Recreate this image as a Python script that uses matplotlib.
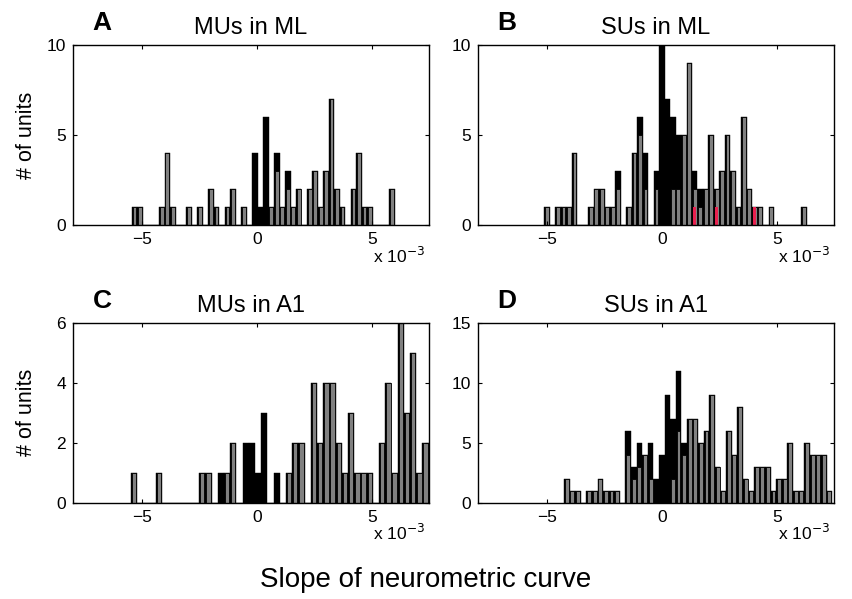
import numpy as np
import matplotlib.pyplot as plt

plt.rcParams['font.family'] = ['Liberation Sans', 'DejaVu Sans']

# histogram counts per bin (slope in units of 1e-3)
# total = all units (black), gray = non-significant units, red = marked units
a_lo, a_w = -5.435, 0.2381
a_total = [1, 1, 0, 0, 0, 1, 4, 1, 0, 0, 1, 0, 1, 0, 2, 1, 0, 1, 2, 0, 1, 0, 4, 1,
           6, 1, 4, 1, 3, 1, 2, 0, 2, 3, 1, 3, 7, 2, 1, 0, 2, 4, 1, 1, 0, 0, 0, 2]
a_gray = [1, 1, 0, 0, 0, 1, 4, 1, 0, 0, 1, 0, 1, 0, 2, 1, 0, 1, 2, 0, 1, 0, 0, 0,
          0, 1, 3, 1, 2, 1, 2, 0, 2, 3, 1, 3, 7, 2, 1, 0, 2, 4, 1, 1, 0, 0, 0, 2]

b_lo, b_w = -5.101, 0.2377
b_total = [1, 0, 1, 1, 1, 4, 0, 0, 1, 2, 2, 1, 1, 3, 0, 1, 4, 6, 4, 0, 3, 10, 7, 6,
           5, 5, 9, 3, 2, 2, 5, 2, 3, 5, 3, 1, 6, 2, 1, 1, 0, 1, 0, 0, 0, 0, 0, 1]
b_gray = [1, 0, 1, 1, 1, 4, 0, 0, 1, 2, 2, 1, 1, 2, 0, 1, 4, 5, 2, 0, 2, 0, 0, 2,
          2, 5, 9, 2, 1, 2, 5, 2, 3, 5, 3, 1, 6, 2, 1, 1, 0, 1, 0, 0, 0, 0, 0, 1]
b_red = [0, 0, 0, 0, 0, 0, 0, 0, 0, 0, 0, 0, 0, 0, 0, 0, 0, 0, 0, 0, 0, 0, 0, 0,
         0, 0, 0, 1, 0, 0, 0, 1, 0, 0, 0, 0, 0, 0, 1, 0, 0, 0, 0, 0, 0, 0, 0, 0]

c_lo, c_w = -5.465, 0.2696
c_total = [1, 0, 0, 0, 1, 0, 0, 0, 0, 0, 0, 1, 1, 0, 1, 1, 2, 0, 2, 2, 1, 3, 0, 1,
           0, 1, 2, 2, 0, 4, 2, 4, 4, 2, 1, 3, 1, 1, 1, 0, 2, 4, 1, 6, 3, 5, 1, 2]
c_gray = [1, 0, 0, 0, 1, 0, 0, 0, 0, 0, 0, 1, 1, 0, 0, 1, 2, 0, 0, 0, 0, 0, 0, 0,
          0, 1, 2, 2, 0, 4, 2, 4, 4, 2, 1, 3, 1, 1, 1, 0, 2, 4, 1, 6, 3, 5, 1, 2]

d_lo, d_w = -4.248, 0.2429
d_total = [2, 1, 1, 0, 1, 1, 2, 1, 1, 1, 0, 6, 3, 5, 4, 5, 2, 4, 9, 7, 11, 5, 7, 7,
           5, 6, 9, 3, 1, 6, 4, 8, 2, 1, 3, 3, 3, 1, 2, 2, 5, 1, 1, 5, 4, 4, 4, 1]
d_gray = [2, 1, 1, 0, 1, 1, 2, 1, 1, 1, 0, 4, 2, 3, 4, 2, 0, 0, 0, 2, 6, 4, 7, 7,
          5, 6, 9, 3, 1, 6, 4, 8, 2, 1, 3, 3, 3, 1, 2, 2, 5, 1, 1, 5, 4, 4, 4, 1]

panels = [
    ('A', 'MUs in ML', a_lo, a_w, a_total, a_gray, None, 10, [0, 5, 10]),
    ('B', 'SUs in ML', b_lo, b_w, b_total, b_gray, b_red, 10, [0, 5, 10]),
    ('C', 'MUs in A1', c_lo, c_w, c_total, c_gray, None, 6, [0, 2, 4, 6]),
    ('D', 'SUs in A1', d_lo, d_w, d_total, d_gray, None, 15, [0, 5, 10, 15]),
]

W, H = 852, 599
fig = plt.figure(figsize=(W / 100, H / 100), dpi=100)

# axes boxes in pixels: left, top
boxes = [(72.7, 45), (477.7, 45), (72.7, 322.7), (477.7, 322.7)]
aw, ah = 356.5, 180

for (letter, title, lo, w, total, gray, red, ymax, yt), (lx, ty) in zip(panels, boxes):
    ax = fig.add_axes([lx / W, 1 - (ty + ah) / H, aw / W, ah / H])
    x = lo + w * (np.arange(len(total)) + 0.5)
    ax.bar(x, total, width=w, color='black', edgecolor='black', linewidth=0.3)
    ax.bar(x, gray, width=w * 0.7, color='#808080', edgecolor='black', linewidth=0.6)
    if red is not None:
        ax.bar(x, red, width=w * 0.55, color='#e8214f', edgecolor='none')
    ax.set_xlim(-8, 7.5)
    ax.set_ylim(0, ymax)
    ax.set_xticks([-5, 0, 5])
    ax.set_xticklabels(['\u22125', '0', '5'])
    ax.set_yticks(yt)
    ax.tick_params(direction='in', length=3, width=0.8, top=True, right=True,
                   labelsize=12.5, pad=5)
    for s in ax.spines.values():
        s.set_linewidth(1.0)
    ax.set_title(title, fontsize=17, pad=8)
    ax.text(0.988, -0.21, r'x 10$^{-3}$', transform=ax.transAxes,
            ha='right', va='baseline', fontsize=12.5)
    fig.text((lx + 20) / W, 1 - (ty - 15) / H, letter, fontsize=19,
             fontweight='bold', va='baseline', ha='left')
    if lx < 100:
        fig.text(27 / W, 1 - (ty + ah / 2) / H, '# of units', rotation=90,
                 ha='center', va='center', fontsize=15.5)

fig.text(0.5, 1 - 580 / H, 'Slope of neurometric curve', ha='center',
         va='center', fontsize=20)

fig.savefig('out.png', dpi=100)
